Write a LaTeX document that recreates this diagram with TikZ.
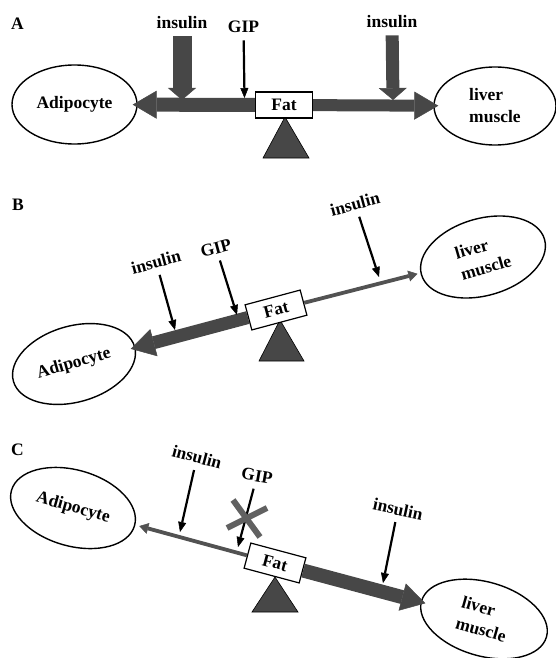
\documentclass[tikz,border=0pt]{standalone}
\usepackage{fontspec}
\setmainfont{Liberation Serif}
\usetikzlibrary{arrows.meta,shapes.geometric}
\begin{document}
\begin{tikzpicture}[x=1pt,y=-1pt,
  font=\fontsize{17.5}{22}\selectfont\bfseries,
  organ/.style={draw, line width=1.4pt, ellipse, inner sep=0pt, align=left},
  fatbox/.style={draw, line width=1.2pt, fill=white, minimum width=57pt, minimum height=26pt, inner sep=0pt},
  lbl/.style={inner sep=2pt},
  fulcrum/.style={fill=black!72, draw=black, line width=0.6pt},
  beamthick/.style={draw=black!72, line width=#1, -{Triangle[length=24pt,width=28pt,line width=0.5pt]}, shorten >=-5pt},
  beamthin/.style={draw=black!68, line width=3.8pt, -{Triangle[length=9pt,width=11pt,line width=0.5pt]}},
  hormone/.style={draw=black, line width=2.2pt, -{Triangle[length=10pt,width=8pt,line width=0.5pt]}, shorten <=5pt},
  hormonethick/.style={draw=black!72, line width=#1, -{Triangle[length=12pt,width=28pt,line width=0.5pt]}, shorten <=5pt},
  crossbar/.style={draw=black!62, line width=6pt},
]
\useasboundingbox (0,0) rectangle (556,658);

% ---------------- Panel A ----------------
\node[anchor=base] (labA) at (17.5,30) {A};
\path[fulcrum] (285,117) -- (309,158) -- (263,158) -- cycle;
\node[fatbox] (fatA) at (284,105) {Fat};
\node[organ, minimum width=125pt, minimum height=79pt] (adipA) at (74.5,104.5) {Adipocyte};
\node[organ, minimum width=122pt, minimum height=78pt] (livA) at (495,106) {liver\\muscle};
\draw[beamthick=14pt] (fatA) -- (adipA);
\draw[beamthick=12pt] (fatA) -- (livA);
\node[lbl, anchor=base] (insA1) at (182,29) {insulin};
\node[lbl, anchor=base] (gipA) at (243.5,33) {GIP};
\node[lbl, anchor=base] (insA2) at (392,28) {insulin};
\coordinate (tA1) at (182,100);
\coordinate (tA2) at (244.5,98);
\coordinate (tA3) at (393,100);
\draw[hormonethick=19pt] (insA1) -- (tA1);
\draw[hormone] (gipA) -- (tA2);
\draw[hormonethick=13pt] (insA2) -- (tA3);

% ---------------- Panel B ----------------
\node[anchor=base] (labB) at (18,210) {B};
\path[fulcrum] (280,320) -- (304,361) -- (259,361) -- cycle;
\node[fatbox, rotate=15] (fatB) at (276,310) {Fat};
\node[organ, rotate=16, minimum width=126pt, minimum height=76pt] (adipB) at (74,364) {Adipocyte};
\node[organ, rotate=16, minimum width=128pt, minimum height=77pt] (livB) at (483,257) {liver\\muscle};
\draw[beamthick=13pt] (fatB) -- (adipB);
\draw[beamthin, shorten >=3pt] (fatB) -- (livB);
\node[lbl, rotate=15] (insB1) at (156,262) {insulin};
\node[lbl, rotate=15] (gipB) at (216,248) {GIP};
\node[lbl, rotate=15] (insB2) at (355,204) {insulin};
\coordinate (tB1) at (175,330);
\coordinate (tB2) at (237,315);
\coordinate (tB3) at (379,277);
\draw[hormone] (insB1) -- (tB1);
\draw[hormone] (gipB) -- (tB2);
\draw[hormone] (insB2) -- (tB3);

% ---------------- Panel C ----------------
\node[anchor=base] (labC) at (17.5,455) {C};
\path[fulcrum] (275,577) -- (298,612) -- (252,612) -- cycle;
\node[fatbox, rotate=-15] (fatC) at (275,563) {Fat};
\node[organ, rotate=-16, minimum width=128pt, minimum height=76pt] (adipC) at (73,508) {Adipocyte};
\node[organ, rotate=-16, minimum width=130pt, minimum height=74pt] (livC) at (484,619) {liver\\muscle};
\draw[beamthin, shorten >=4pt] (fatC) -- (adipC);
\draw[beamthick=14pt] (fatC) -- (livC);
\node[lbl, rotate=-15] (insC1) at (197,457) {insulin};
\node[lbl, rotate=-10] (gipC) at (257,476) {GIP};
\node[lbl, rotate=-12] (insC2) at (398,509) {insulin};
\coordinate (tC1) at (180,532);
\coordinate (tC2) at (238,547);
\coordinate (tC3) at (383,583);
\draw[hormone] (insC1) -- (tC1);
\draw[hormone] (gipC) -- (tC2);
\draw[hormone] (insC2) -- (tC3);
\draw[crossbar] (233,500) -- (260,537);
\draw[crossbar] (227,528) -- (267,508);
\end{tikzpicture}
\end{document}
